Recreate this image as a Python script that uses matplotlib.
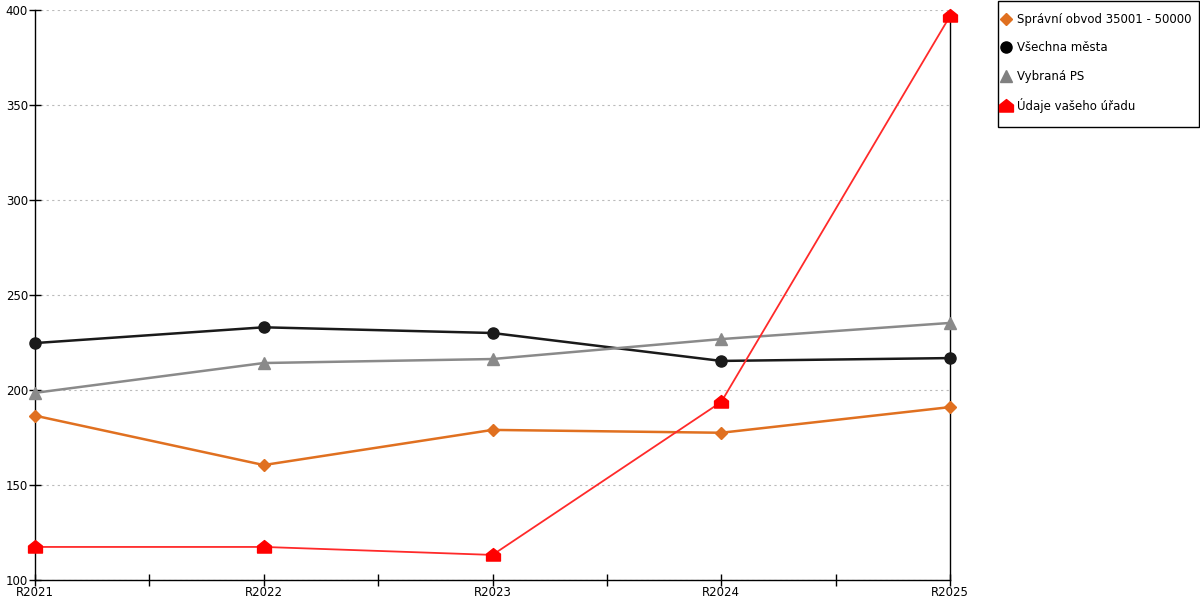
import numpy as np
import matplotlib.pyplot as plt
from matplotlib.path import Path
from matplotlib.lines import Line2D
from matplotlib.patches import Rectangle

years = ['R2021', 'R2022', 'R2023', 'R2024', 'R2025']
spravni_obvod = [186.5, 160.5, 179.0, 177.5, 191.0]
vsechna_mesta = [224.7, 233.0, 230.0, 215.3, 216.8]
vybrana_ps = [198.5, 214.2, 216.3, 226.8, 235.3]
vas_urad = [117.4, 117.4, 113.2, 193.7, 396.8]

plt.rcParams['font.family'] = ['DejaVu Sans']

# house shaped marker for the office series
house = Path([(-1, -0.8), (1, -0.8), (1, 0.2), (0, 1), (-1, 0.2), (-1, -0.8)],
             [Path.MOVETO, Path.LINETO, Path.LINETO, Path.LINETO, Path.LINETO, Path.CLOSEPOLY])

W, H = 1200, 600
fig = plt.figure(figsize=(12, 6), dpi=100)
ax = fig.add_axes([35 / W, 20 / H, 915 / W, 570 / H])

x = np.arange(len(years))
ax.plot(x, spravni_obvod, color='#e07020', lw=1.8, marker='D', ms=6, zorder=3, clip_on=False)
ax.plot(x, vsechna_mesta, color='#1a1a1a', lw=1.8, marker='o', ms=8, zorder=3, clip_on=False)
ax.plot(x, vybrana_ps, color='#8a8a8a', lw=1.8, marker='^', ms=8.5, zorder=3, clip_on=False)
ax.plot(x, vas_urad, color='#ff2a2a', lw=1.3, marker=house, ms=10, mfc='#ff0000', mec='#ff0000',
        zorder=4, clip_on=False)

ax.set_xlim(0, len(years) - 1)
ax.set_ylim(100, 400)
ax.set_xticks(x)
ax.set_xticklabels(years)
ax.set_xticks(x[:-1] + 0.5, minor=True)
ax.set_yticks([100, 150, 200, 250, 300, 350, 400])
ax.tick_params(axis='x', which='both', direction='inout', length=8, width=1, pad=0, labelsize=8.5)
ax.tick_params(axis='y', direction='inout', length=8, width=1, pad=1, labelsize=8.5)
ax.yaxis.grid(True, color='#bbbbbb', ls=(0, (2, 3)), lw=0.8)
ax.spines['top'].set_visible(False)
for s in ['left', 'right', 'bottom']:
    ax.spines[s].set_linewidth(1)

# legend box drawn by hand so it fits the right edge
fig.patches.append(Rectangle((997.5 / W, 1 - 127 / H), 201 / W, 126.5 / H,
                             transform=fig.transFigure, fill=False, ec='black', lw=1))

handles = [
    Line2D([], [], ls='none', marker='D', color='#e07020', ms=6),
    Line2D([], [], ls='none', marker='o', color='#000000', ms=8),
    Line2D([], [], ls='none', marker='^', color='#808080', ms=8.5),
    Line2D([], [], ls='none', marker=house, color='#ff0000', ms=10),
]
labels = ['Správní obvod 35001 - 50000', 'Všechna města', 'Vybraná PS', 'Údaje vašeho úřadu']
leg = fig.legend(handles, labels, loc='upper left', bbox_to_anchor=(1001 / W, 1 - 13 / H),
                 fontsize=8.5, frameon=False, labelspacing=1.3, handlelength=0.8,
                 handletextpad=0.55, borderpad=0, borderaxespad=0)

fig.savefig('out.png', dpi=100)
